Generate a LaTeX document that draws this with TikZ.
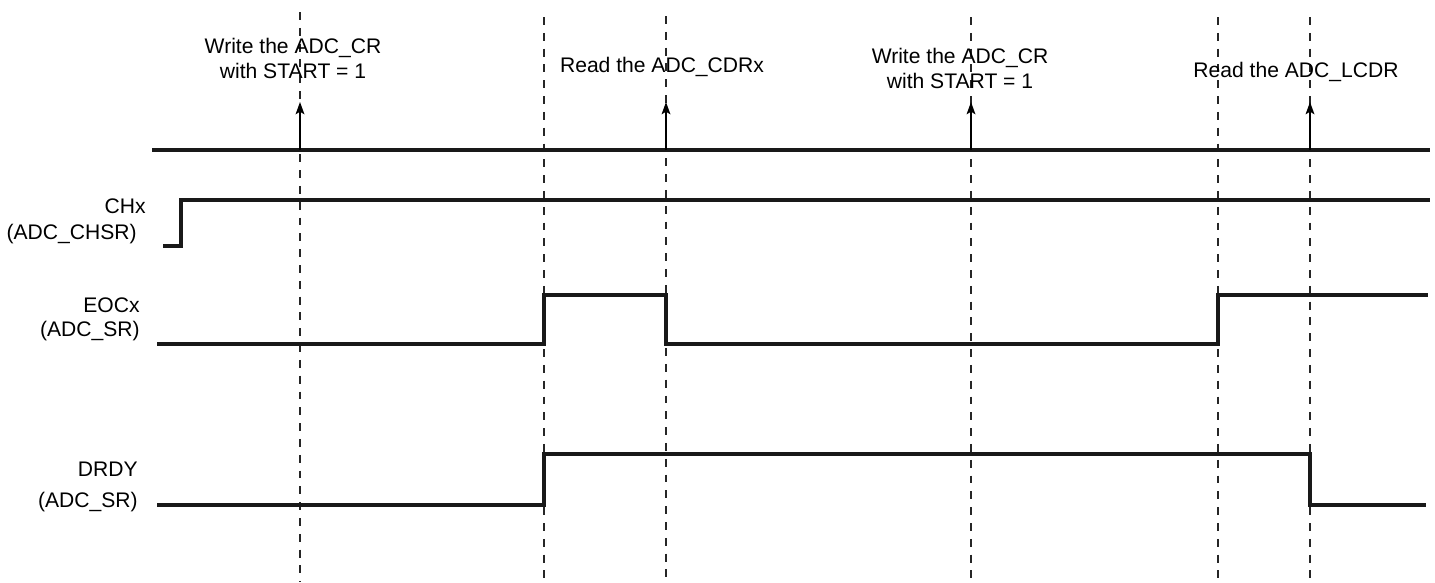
\documentclass[tikz,border=0pt]{standalone}
\usepackage{fontspec}
\setmainfont{Liberation Sans}
\usetikzlibrary{arrows.meta, positioning}

\begin{document}
\begin{tikzpicture}[
    x=0.02cm, y=-0.02cm,
    signal/.style={line width=1.8pt, black!90},
    guide/.style={line width=0.8pt, black!85, dash pattern=on 4.5pt off 4.5pt},
    event/.style={-{Stealth[length=7pt, width=5pt, inset=1.5pt]}, line width=0.9pt},
    lbl/.style={font=\fontsize{12}{14.2}\selectfont, anchor=base east, inner sep=0pt},
    note/.style={font=\fontsize{12}{14.2}\selectfont, align=center, anchor=north, inner sep=0pt},
]
    \useasboundingbox (0,0) rectangle (1435,582);

    % Guides
    \draw[guide] (300,12) -- (300,582);
    \draw[guide] (544,17) -- (544,582);
    \draw[guide] (666,16) -- (666,582);
    \draw[guide] (971,17) -- (971,582);
    \draw[guide] (1218,17) -- (1218,582);
    \draw[guide] (1310,17) -- (1310,582);

    % Software events
    \draw[signal] (152,150) -- (1430,150);
    \node[note] (write1) at (293,38) {Write the ADC\_CR\\with START = 1};
    \node[note] (read1) at (662,57) {Read the ADC\_CDRx};
    \node[note] (write2) at (960,48) {Write the ADC\_CR\\with START = 1};
    \node[note] (read2) at (1296,62) {Read the ADC\_LCDR};

    \coordinate (write1 bus) at (300,150);
    \coordinate (write1 tip) at (300,102);
    \coordinate (read1 bus) at (666,150);
    \coordinate (read1 tip) at (666,102);
    \coordinate (write2 bus) at (971,150);
    \coordinate (write2 tip) at (971,102);
    \coordinate (read2 bus) at (1310,150);
    \coordinate (read2 tip) at (1310,102);
    \draw[event] (write1 bus) -- (write1 tip);
    \draw[event] (read1 bus) -- (read1 tip);
    \draw[event] (write2 bus) -- (write2 tip);
    \draw[event] (read2 bus) -- (read2 tip);

    % CHx
    \node[lbl] (chx) at (146,213) {CHx};
    \node[lbl] (chsr) at (137,239) {(ADC\_CHSR)};
    \draw[signal] (163,246) -- (181,246) -- (181,200) -- (1430,200);

    % EOCx
    \node[lbl] (eocx) at (140,312) {EOCx};
    \node[lbl] (eocsr) at (140,336) {(ADC\_SR)};
    \draw[signal] (157,344) -- (544,344) -- (544,295) -- (666,295) -- (666,344)
        -- (1218,344) -- (1218,295) -- (1428,295);

    % DRDY
    \node[lbl] (drdy) at (138,476) {DRDY};
    \node[lbl] (drdysr) at (138,507) {(ADC\_SR)};
    \draw[signal] (157,505) -- (544,505) -- (544,454) -- (1310,454) -- (1310,505)
        -- (1426,505);

\end{tikzpicture}
\end{document}
